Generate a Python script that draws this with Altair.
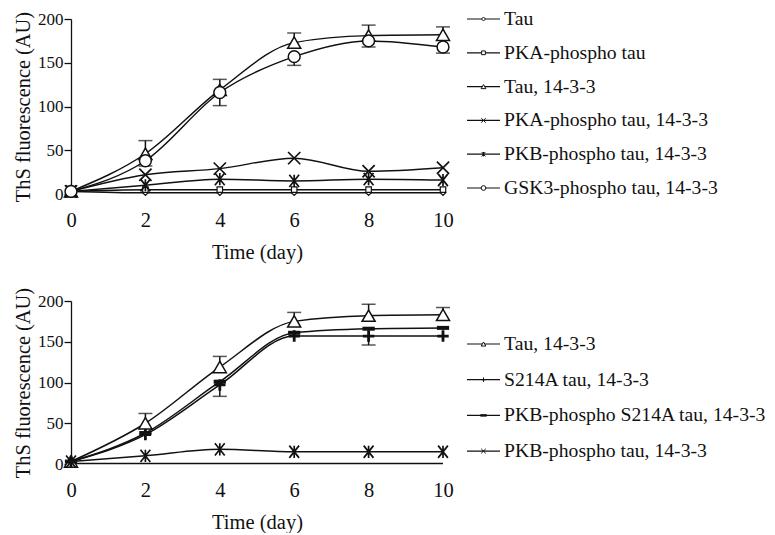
import altair as alt
import pandas as pd

FONT = "Liberation Serif"

days = [0, 2, 4, 6, 8, 10]

# ---- top panel series ----
top_names = ["Tau", "PKA-phospho tau", "Tau, 14-3-3", "PKA-phospho tau, 14-3-3",
             "PKB-phospho tau, 14-3-3", "GSK3-phospho tau, 14-3-3"]
tau = [3, 1.5, 1.5, 1.5, 1.5, 1.5]
pka_tau = [3, 5, 5, 5, 5, 5]
tau_1433 = [3, 46, 119, 173, 181, 182]
tau_1433_err_up = [0, 15, 12, 11, 12, 9]
pka_1433 = [3, 22, 29, 41, 26, 30]
pkb_1433 = [3, 10, 17, 15, 17, 16]
gsk3_1433 = [3, 38, 116, 157, 175, 168]
gsk3_1433_err_dn = [0, 6, 15, 10, 7, 7]

# ---- bottom panel series ----
bot_names = ["Tau, 14-3-3", "S214A tau, 14-3-3", "PKB-phospho S214A tau, 14-3-3",
             "PKB-phospho tau, 14-3-3"]
b_tau_1433 = [3, 50, 119, 175, 182, 183]
b_tau_1433_err_up = [0, 12, 13, 11, 14, 9]
b_s214a = [3, 36, 97, 157, 157, 157]
b_s214a_err_dn = [0, 0, 14, 0, 11, 0]
b_pkb_s214a = [3, 38, 101, 161, 166, 167]
b_pkb_1433 = [3, 10, 18, 15, 15, 15]
b_base = [0.5, 0.5, 0.5, 0.5, 0.5, 0.5]

# marker paths
P_X = "M-1,-1L1,1M1,-1L-1,1"
P_AST = "M-0.8,-1L0.8,1M0.8,-1L-0.8,1M0,-1L0,1"
P_PLUS = "M-1,0L1,0M0,-1L0,1"
P_DASH = "M-1,0L1,0"

INK = "#111"


def long_df(names, arrays):
    rows = []
    for n, arr in zip(names, arrays):
        for d, v in zip(days, arr):
            rows.append({"series": n, "day": d, "value": v})
    return pd.DataFrame(rows)


def err_df(name, vals, errs, up):
    rows = []
    for d, v, e in zip(days, vals, errs):
        if e > 0:
            rows.append({"series": name, "day": d, "lo": v if up else v - e,
                         "hi": v + e if up else v, "cap": v + e if up else v - e})
    return pd.DataFrame(rows)


def panel(line_df, err_frames, markers, h):
    xs = alt.X("day:Q", scale=alt.Scale(domain=[0, 10], nice=False),
               axis=alt.Axis(values=days, title="Time (day)", ticks=False, domain=False,
                             labelPadding=16, titlePadding=12, grid=False, labelFlush=False,
                             labelFontSize=20.5, titleFontSize=20.5))
    ys = alt.Y("value:Q", scale=alt.Scale(domain=[0, 200], nice=False),
               axis=alt.Axis(values=[0, 50, 100, 150, 200], title="ThS fluorescence (AU)",
                             tickSize=7, grid=False, titlePadding=4, labelPadding=1,
                             labelFlush=False, labelFontSize=17, titleFontSize=20.4))
    layers = [alt.Chart(line_df).mark_line(interpolate="monotone", color=INK,
                                           strokeWidth=1.5).encode(
        x=xs, y=ys, detail="series:N")]
    err = pd.concat(err_frames, ignore_index=True)
    layers.append(alt.Chart(err).mark_rule(color=INK, strokeWidth=1.5).encode(
        x="day:Q", y="lo:Q", y2="hi:Q"))
    layers.append(alt.Chart(err).mark_tick(color=INK, thickness=1.5, size=14,
                                           orient="horizontal").encode(
        x="day:Q", y="cap:Q"))
    for name, (shape, size, sw) in markers.items():
        layers.append(alt.Chart(line_df).transform_filter(
            alt.datum.series == name).mark_point(
            shape=shape, size=size, strokeWidth=sw, filled=False, fill="white",
            stroke=INK, opacity=1, fillOpacity=1).encode(x="day:Q", y="value:Q"))
    return alt.layer(*layers).properties(width=372, height=h)


def legend_panel(names, lmarks, h, start, step):
    df = pd.DataFrame({"label": names, "row": list(range(len(names)))})
    n0 = -start / step
    n1 = (h - start) / step
    yenc = alt.Y("row:Q", scale=alt.Scale(domain=[n0, n1], reverse=True, nice=False,
                                          zero=False), axis=None)
    base = alt.Chart(df)
    layers = [base.mark_rule(color=INK, strokeWidth=1.2).encode(
        x=alt.value(24), x2=alt.value(57), y=yenc)]
    for name, (shape, size, sw) in zip(names, lmarks):
        layers.append(base.transform_filter(alt.datum.label == name).mark_point(
            shape=shape, size=size, strokeWidth=sw, filled=False, fill="white",
            stroke=INK, opacity=1, fillOpacity=1).encode(x=alt.value(40.5), y=yenc))
    layers.append(base.mark_text(align="left", baseline="middle", font=FONT, fontSize=19.7,
                                 color=INK).encode(x=alt.value(61), y=yenc, text="label:N"))
    return alt.layer(*layers).properties(width=290, height=h)


top_lines = long_df(top_names, [tau, pka_tau, tau_1433, pka_1433, pkb_1433, gsk3_1433])
top_markers = {"Tau": ("diamond", 30, 1.2), "PKA-phospho tau": ("square", 30, 1.2),
               "Tau, 14-3-3": ("triangle-up", 170, 1.5),
               "PKA-phospho tau, 14-3-3": (P_X, 150, 1.7),
               "PKB-phospho tau, 14-3-3": (P_AST, 150, 1.7),
               "GSK3-phospho tau, 14-3-3": ("circle", 140, 1.5)}
top = panel(top_lines,
            [err_df("Tau, 14-3-3", tau_1433, tau_1433_err_up, True),
             err_df("GSK3-phospho tau, 14-3-3", gsk3_1433, gsk3_1433_err_dn, False)],
            top_markers, 175)

bot_all = long_df(bot_names + ["base"], [b_tau_1433, b_s214a, b_pkb_s214a, b_pkb_1433, b_base])
bot_markers = {"Tau, 14-3-3": ("triangle-up", 170, 1.5),
               "S214A tau, 14-3-3": (P_PLUS, 130, 2.8),
               "PKB-phospho S214A tau, 14-3-3": (P_DASH, 150, 4),
               "PKB-phospho tau, 14-3-3": (P_AST, 150, 1.7)}
bottom = panel(bot_all,
               [err_df("Tau, 14-3-3", b_tau_1433, b_tau_1433_err_up, True),
                err_df("S214A tau, 14-3-3", b_s214a, b_s214a_err_dn, False)],
               bot_markers, 163)

top_leg = legend_panel(top_names,
                       [("diamond", 16, 1), ("square", 14, 1), ("triangle-up", 22, 1),
                        (P_X, 20, 1), (P_AST, 20, 1), ("circle", 22, 1)], 175, 0, 33.8)
bot_leg = legend_panel(bot_names,
                       [("triangle-up", 22, 1), (P_PLUS, 20, 1), (P_DASH, 40, 2.5),
                        (P_X, 20, 1)], 163, 43, 35.7)

chart = alt.concat(top, top_leg, bottom, bot_leg, columns=2,
                   spacing={"row": 107, "column": 0}, bounds="flush").resolve_scale(
    x="independent", y="independent").properties(
    padding={"left": 5, "top": 1, "right": 0, "bottom": 0}, background="white"
).configure_view(stroke=None).configure_axis(
    labelFont=FONT, titleFont=FONT,
    labelColor=INK, titleColor=INK, titleFontWeight="normal",
    domainColor=INK, tickColor=INK, domainWidth=1.3, tickWidth=1.3
)

chart.save("out.html", embed_options={"renderer": "svg", "actions": False})
